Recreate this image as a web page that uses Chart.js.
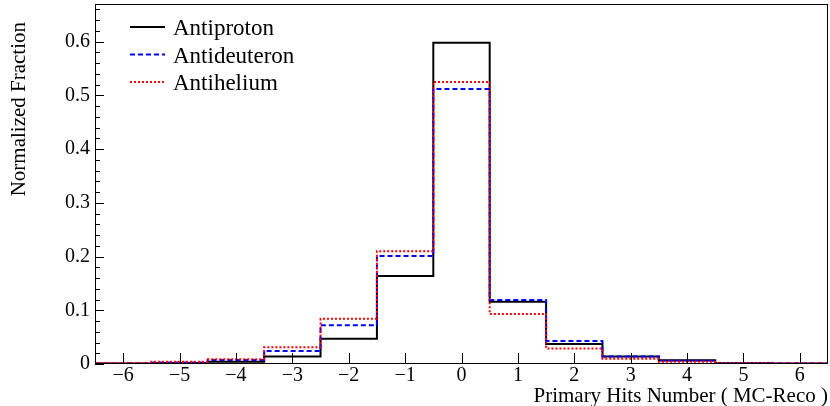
<!DOCTYPE html>
<html>
<head>
<meta charset="utf-8">
<script src="https://cdn.jsdelivr.net/npm/chart.js@4.4.1/dist/chart.umd.min.js"></script>
<style>
  html, body { margin: 0; padding: 0; background: #fff; }
  #wrap { width: 830px; height: 406px; position: relative; }
</style>
</head>
<body>
<div id="wrap"><canvas id="c" width="830" height="406"></canvas></div>
<script>
// Bin centers (Primary Hits Number, MC - Reco)
const binCenters = [-6, -5, -4, -3, -2, -1, 0, 1, 2, 3, 4, 5, 6];
// Normalized fractions per bin
const antiproton  = [0.001, 0.002, 0.004, 0.014, 0.047, 0.164, 0.598, 0.116, 0.037, 0.014, 0.007, 0.002, 0.001];
const antideuteron = [0.001, 0.003, 0.0075, 0.024, 0.072, 0.201, 0.512, 0.119, 0.043, 0.014, 0.006, 0.002, 0.001];
const antihelium  = [0.002, 0.004, 0.009, 0.031, 0.084, 0.210, 0.525, 0.093, 0.029, 0.010, 0.004, 0.002, 0.001];
const seriesNames = ['Antiproton', 'Antideuteron', 'Antihelium'];
const yTickValues = [0, 0.1, 0.2, 0.3, 0.4, 0.5, 0.6];
const xTickValues = [-6, -5, -4, -3, -2, -1, 0, 1, 2, 3, 4, 5, 6];
const yMinorStep = 0.02;
const xTitle = 'Primary Hits Number ( MC-Reco )';
const yTitle = 'Normalized Fraction';

function stepPoints(vals) {
  const pts = binCenters.map((c, i) => ({ x: c - 0.5, y: vals[i] }));
  const last = binCenters[binCenters.length - 1];
  pts.push({ x: last + 0.5, y: vals[vals.length - 1] });
  return pts;
}

const FONT = "'Liberation Serif', 'DejaVu Serif', serif";

const framePlugin = {
  id: 'frame',
  afterDraw(chart) {
    const ctx = chart.ctx;
    const a = chart.chartArea;
    const ys = chart.scales.y, xs = chart.scales.x;
    ctx.save();
    ctx.strokeStyle = '#000';
    ctx.lineWidth = 1;
    ctx.strokeRect(Math.round(a.left) + 0.5, Math.round(a.top) + 0.5,
                   Math.round(a.right - a.left) - 1, Math.round(a.bottom - a.top) - 1);
    // y ticks (major + minor), pointing inward
    ctx.beginPath();
    for (let v = 0; v <= ys.max + 1e-9; v += yMinorStep) {
      const py = Math.round(ys.getPixelForValue(v)) + 0.5;
      const isMajor = Math.abs(v * 10 - Math.round(v * 10)) < 1e-6;
      const len = isMajor ? 9 : 5;
      ctx.moveTo(a.left, py);
      ctx.lineTo(a.left + len, py);
    }
    // x major ticks
    xTickValues.forEach(v => {
      const px = Math.round(xs.getPixelForValue(v)) + 0.5;
      ctx.moveTo(px, a.bottom);
      ctx.lineTo(px, a.bottom - 11);
    });
    ctx.stroke();

    // axis titles
    ctx.fillStyle = '#000';
    ctx.font = "21px " + FONT;
    ctx.textAlign = 'right';
    ctx.textBaseline = 'alphabetic';
    ctx.fillText(xTitle, a.right, 402);
    ctx.save();
    ctx.translate(25, 22);
    ctx.rotate(-Math.PI / 2);
    ctx.textAlign = 'right';
    ctx.fillText(yTitle, 0, 0);
    ctx.restore();

    // legend
    const ds = chart.data.datasets;
    const rows = [27, 54.5, 82];
    ctx.font = "23px " + FONT;
    ctx.textAlign = 'left';
    ds.forEach((d, i) => {
      const idx = seriesNames.indexOf(d.label);
      const y = rows[idx];
      ctx.save();
      ctx.strokeStyle = d.borderColor;
      ctx.lineWidth = d.borderWidth;
      ctx.setLineDash(d.borderDash || []);
      ctx.beginPath();
      ctx.moveTo(130, y);
      ctx.lineTo(165, y);
      ctx.stroke();
      ctx.restore();
      ctx.fillText(d.label, 173, y + 8);
    });
    ctx.restore();
  }
};

new Chart(document.getElementById('c'), {
  type: 'line',
  data: {
    datasets: [
      { label: seriesNames[0], data: stepPoints(antiproton), borderColor: '#000000', borderWidth: 2, stepped: 'before', pointRadius: 0, fill: false, order: 2 },
      { label: seriesNames[1], data: stepPoints(antideuteron), borderColor: '#0000ff', borderWidth: 2, borderDash: [5, 3], stepped: 'before', pointRadius: 0, fill: false, order: 1 },
      { label: seriesNames[2], data: stepPoints(antihelium), borderColor: '#ff0000', borderWidth: 2, borderDash: [2, 2], stepped: 'before', pointRadius: 0, fill: false, order: 0 }
    ]
  },
  options: {
    responsive: false,
    animation: false,
    layout: { padding: { left: 0, right: 2, top: 4, bottom: 0 } },
    plugins: { legend: { display: false }, tooltip: { enabled: false } },
    scales: {
      x: {
        type: 'linear',
        min: -6.5, max: 6.5,
        grid: { display: false, drawTicks: false },
        border: { display: false },
        afterBuildTicks(scale) { scale.ticks = xTickValues.map(v => ({ value: v })); },
        afterFit(scale) { scale.height = 42; scale.paddingLeft = 0; scale.paddingRight = 0; },
        ticks: {
          padding: 0,
          color: '#000',
          font: { family: FONT, size: 20 },
          maxRotation: 0,
          callback: v => (v < 0 ? '\u2212' + Math.abs(v) : String(v))
        }
      },
      y: {
        type: 'linear',
        min: 0, max: 0.67,
        grid: { display: false, drawTicks: false },
        border: { display: false },
        afterBuildTicks(scale) { scale.ticks = yTickValues.map(v => ({ value: v })); },
        afterFit(scale) { scale.width = 95; scale.paddingTop = 0; scale.paddingBottom = 0; },
        ticks: {
          padding: 5,
          color: '#000',
          font: { family: FONT, size: 20 },
          callback: v => (v === 0 ? '0' : v.toFixed(1))
        }
      }
    }
  },
  plugins: [framePlugin]
});
</script>
</body>
</html>
